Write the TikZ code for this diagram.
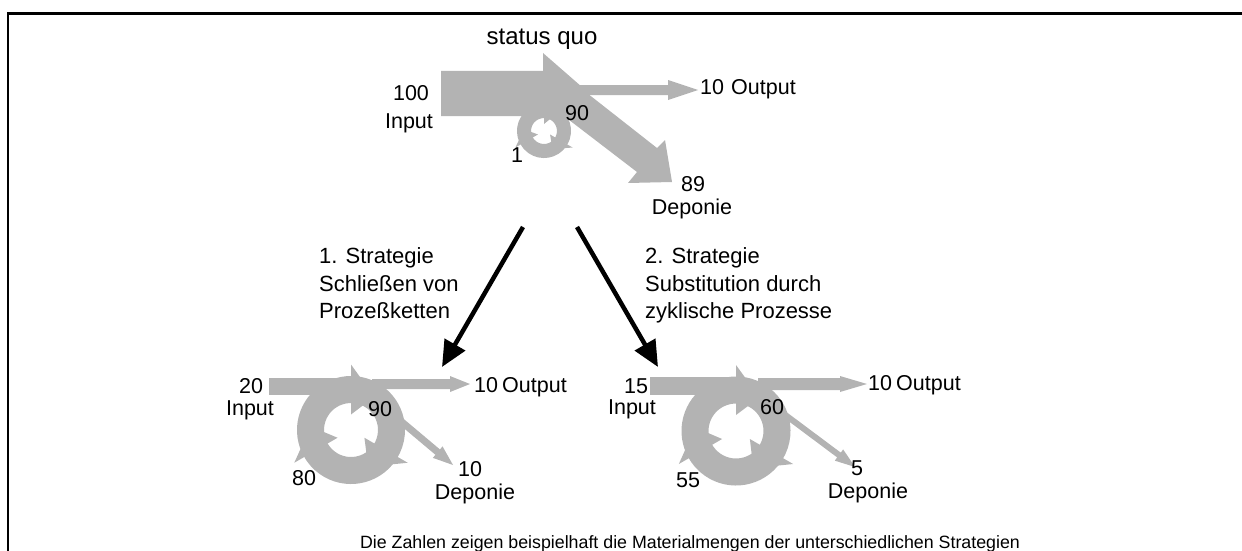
\documentclass[tikz,border=0pt]{standalone}
\usepackage{fontspec}
\setmainfont{Liberation Sans}
\usetikzlibrary{arrows.meta,calc}
\definecolor{flowgray}{RGB}{179,179,179}
\tikzset{
  lbl/.style={inner sep=0pt, font=\fontsize{21.5}{25}\selectfont},
  strat/.style={inner sep=0pt, anchor=base west, font=\fontsize{22}{27}\selectfont},
  splitarrow/.style={line width=4.5pt, -{Triangle[length=26pt,width=23pt]}},
}
% flow arrow: from, to, half shaft, half head, head length
\newcommand\flowarrow[5]{%
  \coordinate (fa-h) at ($(#2)!#5!(#1)$);
  \fill[flowgray] ($(#1)!#3!90:(#2)$) -- ($(fa-h)!#3!-90:(#1)$) -- ($(fa-h)!#4!-90:(#1)$) -- (#2)
    -- ($(fa-h)!#4!90:(#1)$) -- ($(fa-h)!#3!90:(#1)$) -- ($(#1)!#3!-90:(#2)$) -- cycle;}
% recycling ring: centre, mid radius, half width, half head
\newcommand\flowring[4]{%
  \foreach \a in {-175,-55,65} {
    \draw[flowgray, line width=2*#3] ([shift={(\a-30:#2)}]#1) arc[start angle=\a-30, end angle=\a+87, radius=#2];
    \fill[flowgray] ([shift={(\a+85:#2-#4)}]#1) -- ([shift={(\a+85:#2+#4)}]#1) -- ([shift={(\a+120:#2)}]#1) -- cycle;
  }}
\begin{document}
\begin{tikzpicture}[x=1pt,y=-1pt]
\useasboundingbox (0,0) rectangle (1242,551);
\draw[line width=2.3pt] (7.8,551) -- (7.8,13.5) -- (1242,13.5);

% status quo
\coordinate (sqring) at (544,131);
\flowring{sqring}{20}{7}{13}
\fill[flowgray] (441,71) -- (543,71) -- (543,53) -- (590,94) -- (560,116) -- (441,116) -- cycle;
\coordinate (sqout-a) at (570,90);
\coordinate (sqout-b) at (698,90);
\flowarrow{sqout-a}{sqout-b}{5pt}{10pt}{30pt}
\fill[flowgray] (578,86) -- (657,148) -- (665,140) -- (672,182) -- (628,183) -- (637,172) -- (560,113) -- cycle;

\node[lbl, anchor=base, font=\fontsize{24}{28}\selectfont] (sq) at (542,45) {status quo};
\node[lbl, anchor=base] (sqinnum) at (411,100) {100};
\node[lbl, anchor=base] (sqin) at (409,128) {Input};
\node[lbl, anchor=base] (sqloop) at (517,162) {1};
\node[lbl, anchor=base] (sqrec) at (577,120) {90};
\node[lbl, anchor=base west] (sqoutnum) at (700,95) {10};
\node[lbl, anchor=base west] (sqout) at (731,95) {Output};
\node[lbl, anchor=base] (sqdepnum) at (693,191) {89};
\node[lbl, anchor=base] (sqdep) at (692,214) {Deponie};

% strategies
\coordinate (split1) at (523,227);
\coordinate (s1top) at (442,367);
\coordinate (split2) at (577,227);
\coordinate (s2top) at (658,367);
\draw[splitarrow] (split1) -- (s1top);
\draw[splitarrow] (split2) -- (s2top);

\node[strat] (s1title) at (319,263) {1. Strategie};
\node[strat] (s1line2) at (319,291) {Schließen von};
\node[strat] (s1line3) at (319,318) {Prozeßketten};
\node[strat] (s2title) at (645,263) {2. Strategie};
\node[strat] (s2line2) at (645,291) {Substitution durch};
\node[strat] (s2line3) at (645,318) {zyklische Prozesse};

% strategy 1
\coordinate (s1ring) at (351,430);
\fill[flowgray] (269,378) rectangle (352,395);
\flowring{s1ring}{40.5}{13.5}{25}
\coordinate (s1out-a) at (372,384);
\coordinate (s1out-b) at (470,384);
\flowarrow{s1out-a}{s1out-b}{5pt}{8pt}{20pt}
\coordinate (s1dep-a) at (390,412);
\coordinate (s1dep-b) at (453,465);
\flowarrow{s1dep-a}{s1dep-b}{3.5pt}{7.5pt}{20pt}

\node[lbl, anchor=base] (s1innum) at (251,393) {20};
\node[lbl, anchor=base] (s1in) at (250,415) {Input};
\node[lbl, anchor=base] (s1rec) at (380,416) {90};
\node[lbl, anchor=base] (s1loop) at (304,485) {80};
\node[lbl, anchor=base west] (s1outnum) at (474,392) {10};
\node[lbl, anchor=base west] (s1out) at (502,392) {Output};
\node[lbl, anchor=base] (s1depnum) at (470,476) {10};
\node[lbl, anchor=base] (s1dep) at (475,499) {Deponie};

% strategy 2
\coordinate (s2ring) at (736,431);
\fill[flowgray] (650,377) rectangle (737,395);
\flowring{s2ring}{41}{13.5}{25}
\coordinate (s2out-a) at (758,384);
\coordinate (s2out-b) at (867,384);
\flowarrow{s2out-a}{s2out-b}{6pt}{8pt}{27pt}
\coordinate (s2dep-a) at (776,408);
\coordinate (s2dep-b) at (855,467);
\flowarrow{s2dep-a}{s2dep-b}{3pt}{7pt}{20pt}

\node[lbl, anchor=base] (s2innum) at (636,393) {15};
\node[lbl, anchor=base] (s2in) at (632,414) {Input};
\node[lbl, anchor=base] (s2rec) at (772,414) {60};
\node[lbl, anchor=base] (s2loop) at (688,487) {55};
\node[lbl, anchor=base west] (s2outnum) at (868,390) {10};
\node[lbl, anchor=base west] (s2out) at (896,390) {Output};
\node[lbl, anchor=base] (s2depnum) at (857,475) {5};
\node[lbl, anchor=base] (s2dep) at (868,498) {Deponie};

\node[inner sep=0pt, anchor=base, font=\fontsize{17.8}{21}\selectfont] (note) at (690,548) {Die Zahlen zeigen beispielhaft die Materialmengen der unterschiedlichen Strategien};
\end{tikzpicture}
\end{document}
